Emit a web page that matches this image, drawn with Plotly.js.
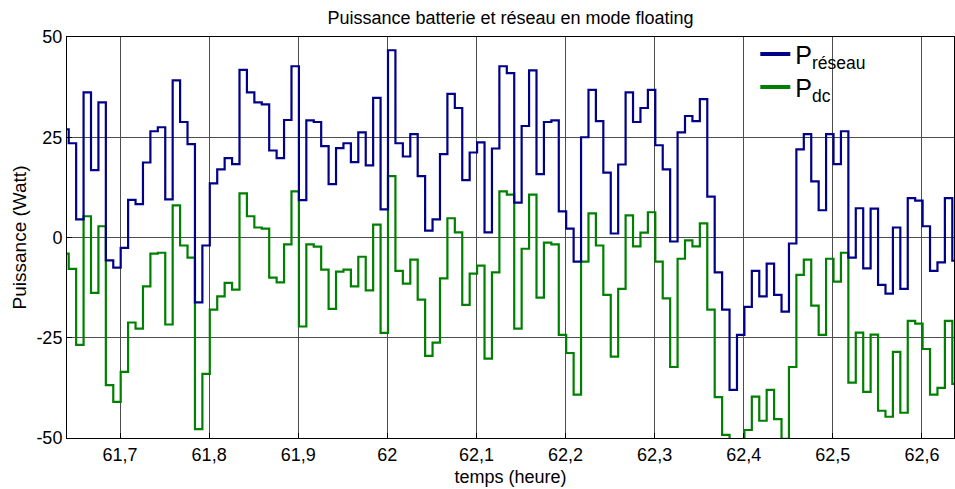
<!DOCTYPE html>
<html>
<head>
<meta charset="utf-8">
<script src="https://cdn.plot.ly/plotly-3.0.1.min.js"></script>
<style>
  html, body { margin: 0; padding: 0; background: #fff; }
  #chart { width: 955px; height: 489px; }
</style>
</head>
<body>
<div id="chart"></div>
<script>
// Sampling: one value every 30 s (1/120 h), first sample time
const startTime = 61.6341;
const sampleStep = 1 / 120;

// P réseau (W)
const pReseau = [
  27, 23.5, 4.5, 36.2, 16.8, 33.7, -5.7, -7.5, -2.6, 9.4,
  8.3, 18.7, 26.5, 27.5, 9.5, 39.2, 28.8, 23.3, -16.2, -2,
  13.5, 17, 19.8, 18.3, 41.8, 36.2, 33.7, 33.2, 21.7, 19.8,
  29.3, 42.7, 9.3, 29.2, 28.8, 22.8, 13.3, 22.3, 23.5, 18.8,
  26.2, 18, 34.8, 7, 46.7, 23.5, 20.2, 25.8, 15.3, 1.7,
  4.5, 20.8, 35.8, 32.3, 14.3, 21.2, 23.7, 1.3, 22.2, 42.7,
  41, 8.7, 27.8, 41.7, 15.8, 28.8, 29.2, 6.5, 2.2, -6,
  25, 36.8, 29, 16.2, 1, 18.2, 36.2, 28.8, 32.3, 36.8,
  23, 17, -1, 26.2, 30.3, 29, 34.5, 10.2, -8.7, -18,
  -38, -24.3, -17.3, -8.3, -14.7, -6.5, -14.3, -18.5, -1.5, 22,
  25.8, 14, 6.8, 25.8, 18.3, 26.5, -5, 7.3, -7.7, 7.2,
  -11.8, -14, 2.5, -12.8, 9.8, 9.2, 2.8, -8.3, -6.2, 9.8,
  -5.8
];

// P dc (W)
const pDc = [
  -4, -7.8, -26.8, 5.3, -13.8, 2.8, -36.8, -41, -33.5, -21.2,
  -22.7, -12.2, -4, -3.8, -21.7, 8, -2, -5, -47.8, -34,
  -18, -14.7, -11.3, -13, 11, 5.3, 2.5, 2.2, -10, -11.2,
  -1.7, 11.5, -22.2, -1.7, -2.3, -8, -17.8, -8.5, -8, -12.2,
  -4.8, -13.2, 3.2, -23.8, 15.3, -8.3, -11.5, -5.5, -15.5, -29.5,
  -26.2, -10.2, 4.8, 1.3, -16.8, -9, -7, -30.2, -8.7, 11.5,
  10.7, -22.7, -2.8, 10.7, -15, -1.3, -1.7, -24.3, -28.8, -39.2,
  -6, 6, -2, -14.3, -29.7, -12.8, 5.5, -2.2, 1.2, 6.3,
  -6, -15.2, -32.3, -5.3, -0.7, -2.2, 3.5, -18, -39.8, -49.2,
  -55, -52, -48, -39.7, -45.7, -38, -45.3, -50.2, -32.3, -9.3,
  -5.5, -17, -24.3, -5.3, -11, -3.8, -36.2, -23.7, -38.5, -24.2,
  -43.2, -44.7, -28.5, -43.7, -20.8, -21.5, -27.8, -39.2, -37.5, -20.8,
  -36.5
];

const xTickVals = [61.7, 61.8, 61.9, 62, 62.1, 62.2, 62.3, 62.4, 62.5, 62.6];
const yTickVals = [-50, -25, 0, 25, 50];
const yTickText = ['-50', '-25', '0', '25', '50'];

function times(n) {
  const t = [];
  for (let i = 0; i < n; i++) t.push(startTime + i * sampleStep);
  return t;
}
function extend(arr) { return arr.concat([arr[arr.length - 1]]); }

const tR = times(pReseau.length + 1);
const tD = times(pDc.length + 1);

const blue = '#000088';
const green = '#008000';
const font = 'Liberation Sans, Arial, Helvetica, sans-serif';

const traces = [
  { x: tD, y: extend(pDc), type: 'scatter', mode: 'lines',
    line: { color: green, width: 2.2, shape: 'hv' }, showlegend: false, hoverinfo: 'skip' },
  { x: tR, y: extend(pReseau), type: 'scatter', mode: 'lines',
    line: { color: blue, width: 2.2, shape: 'hv' }, showlegend: false, hoverinfo: 'skip' },
  { x: [null], y: [null], type: 'scatter', mode: 'lines', name: 'P<sub>réseau</sub>',
    line: { color: blue, width: 4 }, legend: 'legend' },
  { x: [null], y: [null], type: 'scatter', mode: 'lines', name: 'P<sub>dc</sub>',
    line: { color: green, width: 4 }, legend: 'legend2' }
];

const legendCommon = {
  xanchor: 'left', yanchor: 'middle',
  bgcolor: 'rgba(0,0,0,0)', borderwidth: 0,
  font: { family: font, size: 25, color: '#000' },
  itemwidth: 30
};

const layout = {
  width: 955, height: 489,
  margin: { l: 67, r: 1, t: 37, b: 51, pad: 0 },
  paper_bgcolor: '#fff', plot_bgcolor: '#fff',
  separators: ', ',
  font: { family: font, color: '#000', size: 18 },
  title: { text: 'Puissance batterie et réseau en mode floating',
    font: { family: font, size: 18, color: '#000' },
    x: 0.5, xref: 'paper', xanchor: 'center', y: 0.964, yref: 'container', yanchor: 'middle' },
  xaxis: {
    range: [61.6405, 62.636], tickvals: xTickVals,
    showgrid: true, gridcolor: '#4d4d4d', gridwidth: 1, zeroline: false,
    showline: true, linecolor: '#000', linewidth: 1, mirror: true,
    ticks: 'inside', ticklen: 5, tickcolor: '#000',
    tickfont: { family: font, size: 18, color: '#000' },
    title: { text: 'temps (heure)', font: { family: font, size: 18, color: '#000' }, standoff: 6 },
    automargin: false
  },
  yaxis: {
    range: [-50, 50], tickvals: yTickVals, ticktext: yTickText,
    showgrid: true, gridcolor: '#4d4d4d', gridwidth: 1, zeroline: false,
    showline: true, linecolor: '#000', linewidth: 1, mirror: true,
    ticks: 'inside', ticklen: 5, tickcolor: '#000',
    tickfont: { family: font, size: 18, color: '#000' },
    title: { text: 'Puissance (Watt)', font: { family: font, size: 19, color: '#000' }, standoff: 4 },
    automargin: false
  },
  legend: Object.assign({}, legendCommon, { x: 0.776, y: 0.957 }),
  legend2: Object.assign({}, legendCommon, { x: 0.776, y: 0.875 }),
  showlegend: true
};

Plotly.newPlot('chart', traces, layout, { displayModeBar: false, staticPlot: true });
</script>
</body>
</html>
